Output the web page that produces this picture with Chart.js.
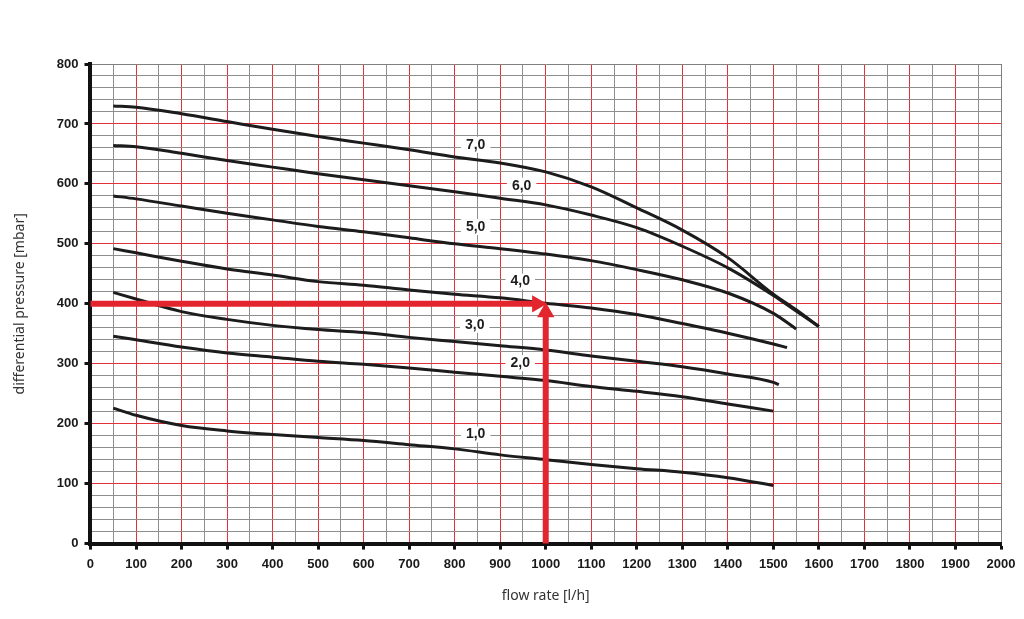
<!DOCTYPE html>
<html>
<head>
<meta charset="utf-8">
<script src="https://cdn.jsdelivr.net/npm/chart.js@4.4.0/dist/chart.umd.min.js"></script>
<style>
	html, body { margin: 0; padding: 0; background: #fff; }
	#wrap { width: 1024px; height: 619px; }
</style>
</head>
<body>
<div id="wrap"><canvas id="chart"></canvas></div>
<script>
// curves: flow rate [l/h] -> differential pressure [mbar]
var flowStd = [50, 100, 200, 300, 400, 500, 600, 700, 800, 900, 1000, 1100, 1200, 1300, 1400, 1500];

var flow10 = flowStd;
var pres10 = [226, 214, 197, 188, 182, 177, 172, 165, 158, 148, 140, 132, 125, 119, 110, 97];

var flow20 = flowStd;
var pres20 = [346, 340, 328, 318, 311, 304, 299, 293, 286, 279, 272, 262, 254, 245, 233, 221];

var flow30 = flowStd.concat([1512]);
var pres30 = [419, 408, 387, 374, 364, 357, 352, 344, 337, 330, 323, 313, 304, 295, 283, 269, 265];

var flow40 = flowStd.concat([1530]);
var pres40 = [492, 485, 471, 458, 448, 437, 431, 423, 416, 410, 401, 393, 382, 367, 351, 333, 327];

var flow50 = flowStd.concat([1550]);
var pres50 = [580, 575, 563, 551, 540, 529, 520, 510, 500, 492, 483, 472, 457, 440, 418, 384, 358];

var flow60 = flowStd.concat([1550, 1600]);
var pres60 = [664, 662, 651, 639, 628, 617, 607, 597, 587, 576, 565, 548, 527, 496, 460, 414, 388, 362];

var flow70 = flowStd.concat([1550, 1600]);
var pres70 = [730, 728, 717, 704, 691, 679, 668, 657, 645, 635, 620, 595, 560, 523, 477, 416, 390, 362];

var curveNames = ['1,0', '2,0', '3,0', '4,0', '5,0', '6,0', '7,0'];
var labelX = [846, 944, 844, 944, 846, 947, 846];
var labelY = [182, 301, 365, 437, 528, 597, 665];

// red reading arrows (operating point 1000 l/h, 400 mbar)
var arrowHx = [0, 981];
var arrowHy = [400, 400];
var arrowVx = [1000, 1000];
var arrowVy = [0, 386];

var xTicks = { min: 0, max: 2000, count: 41, labelStep: 100 };
var yTicks = { min: 0, max: 800, count: 41, labelStep: 100 };

function pts(xs, ys){
	return xs.map((x, i) => ({x: x, y: ys[i]}));
}

var curveSets = [
	[flow10, pres10], [flow20, pres20], [flow30, pres30], [flow40, pres40],
	[flow50, pres50], [flow60, pres60], [flow70, pres70]
].map((c, i) => ({
	label: curveNames[i],
	data: pts(c[0], c[1]),
	borderColor: '#1c1c1c',
	borderWidth: 3,
	pointRadius: 0,
	tension: 0.4,
	cubicInterpolationMode: 'monotone',
	fill: false,
}));

function arrowSet(xs, ys, rot){
	return {
		data: pts(xs, ys),
		borderColor: '#e3262e',
		backgroundColor: '#e3262e',
		borderWidth: 6,
		pointStyle: 'triangle',
		pointRadius: ctx => ctx.dataIndex === xs.length - 1 ? 10 : 0,
		pointBorderWidth: 0,
		rotation: rot,
		tension: 0,
		clip: false,
	};
}

var curveLabels = {
	id: 'curveLabels',
	afterDatasetsDraw(chart){
		var ctx = chart.ctx;
		var sx = chart.scales.x, sy = chart.scales.y;
		ctx.save();
		ctx.font = 'bold 14px "Liberation Sans", Arial, sans-serif';
		ctx.textAlign = 'center';
		ctx.textBaseline = 'middle';
		curveNames.forEach((t, i) => {
			var px = sx.getPixelForValue(labelX[i]);
			var py = sy.getPixelForValue(labelY[i]);
			var w = ctx.measureText(t).width + 10;
			ctx.fillStyle = '#fff';
			ctx.fillRect(px - w / 2, py - 8, w, 16);
			ctx.fillStyle = '#1c1c1c';
			ctx.fillText(t, px, py);
		});
		ctx.restore();
	}
};

function isMajor(v, step){
	return Math.abs(v / step - Math.round(v / step)) < 1e-6;
}

function gridColor(v, lo, hi, step){
	if(v === lo || v === hi) return '#808080';
	return isMajor(v, step) ? '#e3303a' : '#8e8e8e';
}

var tickFont = { family: '"Liberation Sans", Arial, sans-serif', size: 13, weight: 'bold' };
var titleFont = { family: '"Noto Sans", sans-serif', size: 14 };

chart = new Chart(document.getElementById('chart'), {
	type: 'line',
	data: {
		datasets: [arrowSet(arrowHx, arrowHy, 90), arrowSet(arrowVx, arrowVy, 0)].concat(curveSets)
	},
	options: {
		responsive: true,
		maintainAspectRatio: false,
		animation: false,
		layout: { padding: { left: 8, right: 23, top: 64, bottom: 11 } },
		plugins: { legend: { display: false }, tooltip: { enabled: false } },
		scales: {
			x: {
				type: 'linear',
				min: xTicks.min,
				max: xTicks.max,
				grid: {
					color: c => gridColor(c.tick.value, xTicks.min, xTicks.max, xTicks.labelStep),
					lineWidth: 1,
					tickLength: 6,
					tickWidth: 3,
					tickColor: c => isMajor(c.tick.value, xTicks.labelStep) ? '#111' : 'rgba(0,0,0,0)',
				},
				border: { display: true, color: '#111', width: 4 },
				ticks: {
					count: xTicks.count,
					autoSkip: false,
					maxRotation: 0,
					color: '#1a1a1a',
					font: tickFont,
					padding: 7,
					callback: v => isMajor(v, xTicks.labelStep) ? Math.round(v) : '',
				},
				title: { display: true, text: 'flow rate [l/h]', color: '#333', font: titleFont, padding: { top: 8 } },
			},
			y: {
				min: yTicks.min,
				max: yTicks.max,
				grid: {
					color: c => gridColor(c.tick.value, yTicks.min, yTicks.max, yTicks.labelStep),
					lineWidth: 1,
					tickLength: 6,
					tickWidth: 3,
					tickColor: c => isMajor(c.tick.value, yTicks.labelStep) ? '#111' : 'rgba(0,0,0,0)',
				},
				border: { display: true, color: '#111', width: 4 },
				ticks: {
					count: yTicks.count,
					autoSkip: false,
					color: '#1a1a1a',
					font: tickFont,
					padding: 6,
					callback: v => isMajor(v, yTicks.labelStep) ? Math.round(v) : '',
				},
				title: { display: true, text: 'differential pressure [mbar]', color: '#333', font: titleFont, padding: { bottom: 22 } },
			}
		}
	},
	plugins: [curveLabels]
});
</script>
</body>
</html>
